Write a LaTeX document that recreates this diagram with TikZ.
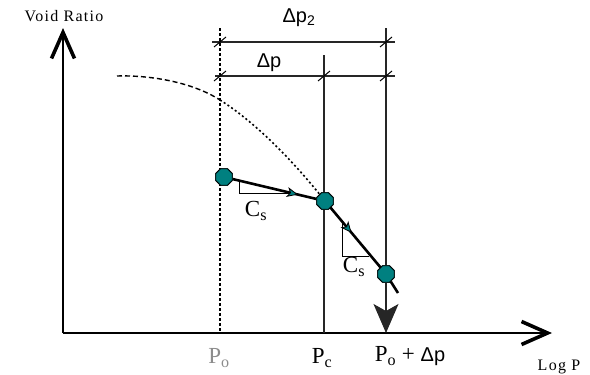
\documentclass[tikz,border=0pt]{standalone}
\usepackage{fontspec}
\setmainfont{Liberation Serif}
\newfontfamily\arialfont{Liberation Sans}
\usepackage{xcolor}
\usetikzlibrary{arrows.meta,shapes.geometric,decorations.markings}
\definecolor{statefill}{RGB}{0,128,128}
\definecolor{labelgray}{RGB}{140,140,140}
\tikzset{
  axisline/.style={
    line width=1.2pt,
    -{Straight Barb[length=26pt,width=23pt,line width=3.6pt]}
  },
  statedot/.style={
    regular polygon,
    regular polygon sides=8,
    minimum size=18pt,
    inner sep=0pt,
    draw=black,
    line width=0.8pt,
    fill=statefill
  },
  guideline/.style={
    line width=1.1pt,
    draw=black!85
  },
  tickmark/.style={
    line width=1pt
  },
  swellline/.style={
    line width=2.6pt,
    postaction={decorate},
    decoration={markings,
      mark=at position #1 with {\arrow{Stealth[length=11pt,width=10pt,inset=3pt,fill=statefill,line width=0.8pt]}}}
  },
  slopetri/.style={
    line width=0.9pt
  },
  pfont/.style={
    font=\fontsize{23}{25}\selectfont
  },
  axisfont/.style={
    font=\fontsize{16}{18}\selectfont\addfontfeature{LetterSpace=8}
  },
  deltafont/.style={
    font=\arialfont\fontsize{20}{22}\selectfont
  }
}

\begin{document}
\begin{tikzpicture}[x=1pt,y=-1pt]
\useasboundingbox (0,0) rectangle (590,375);

% axes
\coordinate (origin) at (63,333);
\coordinate (ytip) at (63,28);
\coordinate (xtip) at (552,333);
\draw[axisline] (origin) -- (ytip);
\draw[axisline] (origin) -- (xtip);
\node[axisfont] (voidlbl) at (64,16) {Void Ratio};
\node[axisfont] (logplbl) at (559,367) {Log P};

% virgin curve
\draw[line width=1.4pt, dash pattern=on 5pt off 3pt]
  (117,76) .. controls (150,75) and (192,82) .. (220,100);
\draw[line width=1.6pt, dash pattern=on 2pt off 2.5pt]
  (220,100) .. controls (255,122) and (292,160) .. (321,196);

% states
\node[statedot] (p0) at (224,177) {};
\node[statedot] (pc) at (325,201) {};
\node[statedot] (pf) at (386,274) {};
\coordinate (tail) at (398,293);

% vertical guides
\draw[line width=1.3pt, dash pattern=on 3pt off 2pt] (220,28) -- (220,333);
\draw[guideline] (324,55) -- (324,333);
\draw[guideline] (386,28) -- (pf);
\draw[guideline, -{Stealth[length=29pt,width=25pt,inset=7pt]}] (pf) -- (386,333);

% dimension lines
\draw[guideline] (212,42) -- (395,42);
\draw[guideline] (215,76) -- (395,76);
\foreach \tx/\ty in {220/42,386/42,220/76,324/76,386/76}
  \draw[tickmark] (\tx,\ty) ++(-6,5) -- ++(12,-10);
\node[deltafont] (dp2lbl) at (299,18) {Δp\textsubscript{2}};
\node[deltafont] (dplbl) at (269,63) {Δp};

% recompression lines
\draw[slopetri] (239,181) -- (239,193) -- (290,193);
\draw[slopetri] (342,222) -- (342,256) -- (369,256);
\draw[swellline=0.78] (p0) -- (pc);
\draw[swellline=0.42] (pc) -- (pf);
\draw[line width=2.6pt] (pf) -- (tail);
\node[statedot] at (p0) {};
\node[statedot] at (pc) {};
\node[statedot] at (pf) {};
\node[pfont] (cs1) at (256,211) {C\textsubscript{s}};
\node[pfont] (cs2) at (354,267) {C\textsubscript{s}};

% pressure labels
\node[pfont, text=labelgray] (polbl) at (219,358) {P\textsubscript{o}};
\node[pfont] (pclbl) at (322,358) {P\textsubscript{c}};
\node[pfont] (pflbl) at (410,356) {P\textsubscript{o} + {\arialfont\fontsize{20}{22}\selectfont Δp}};
\end{tikzpicture}
\end{document}
